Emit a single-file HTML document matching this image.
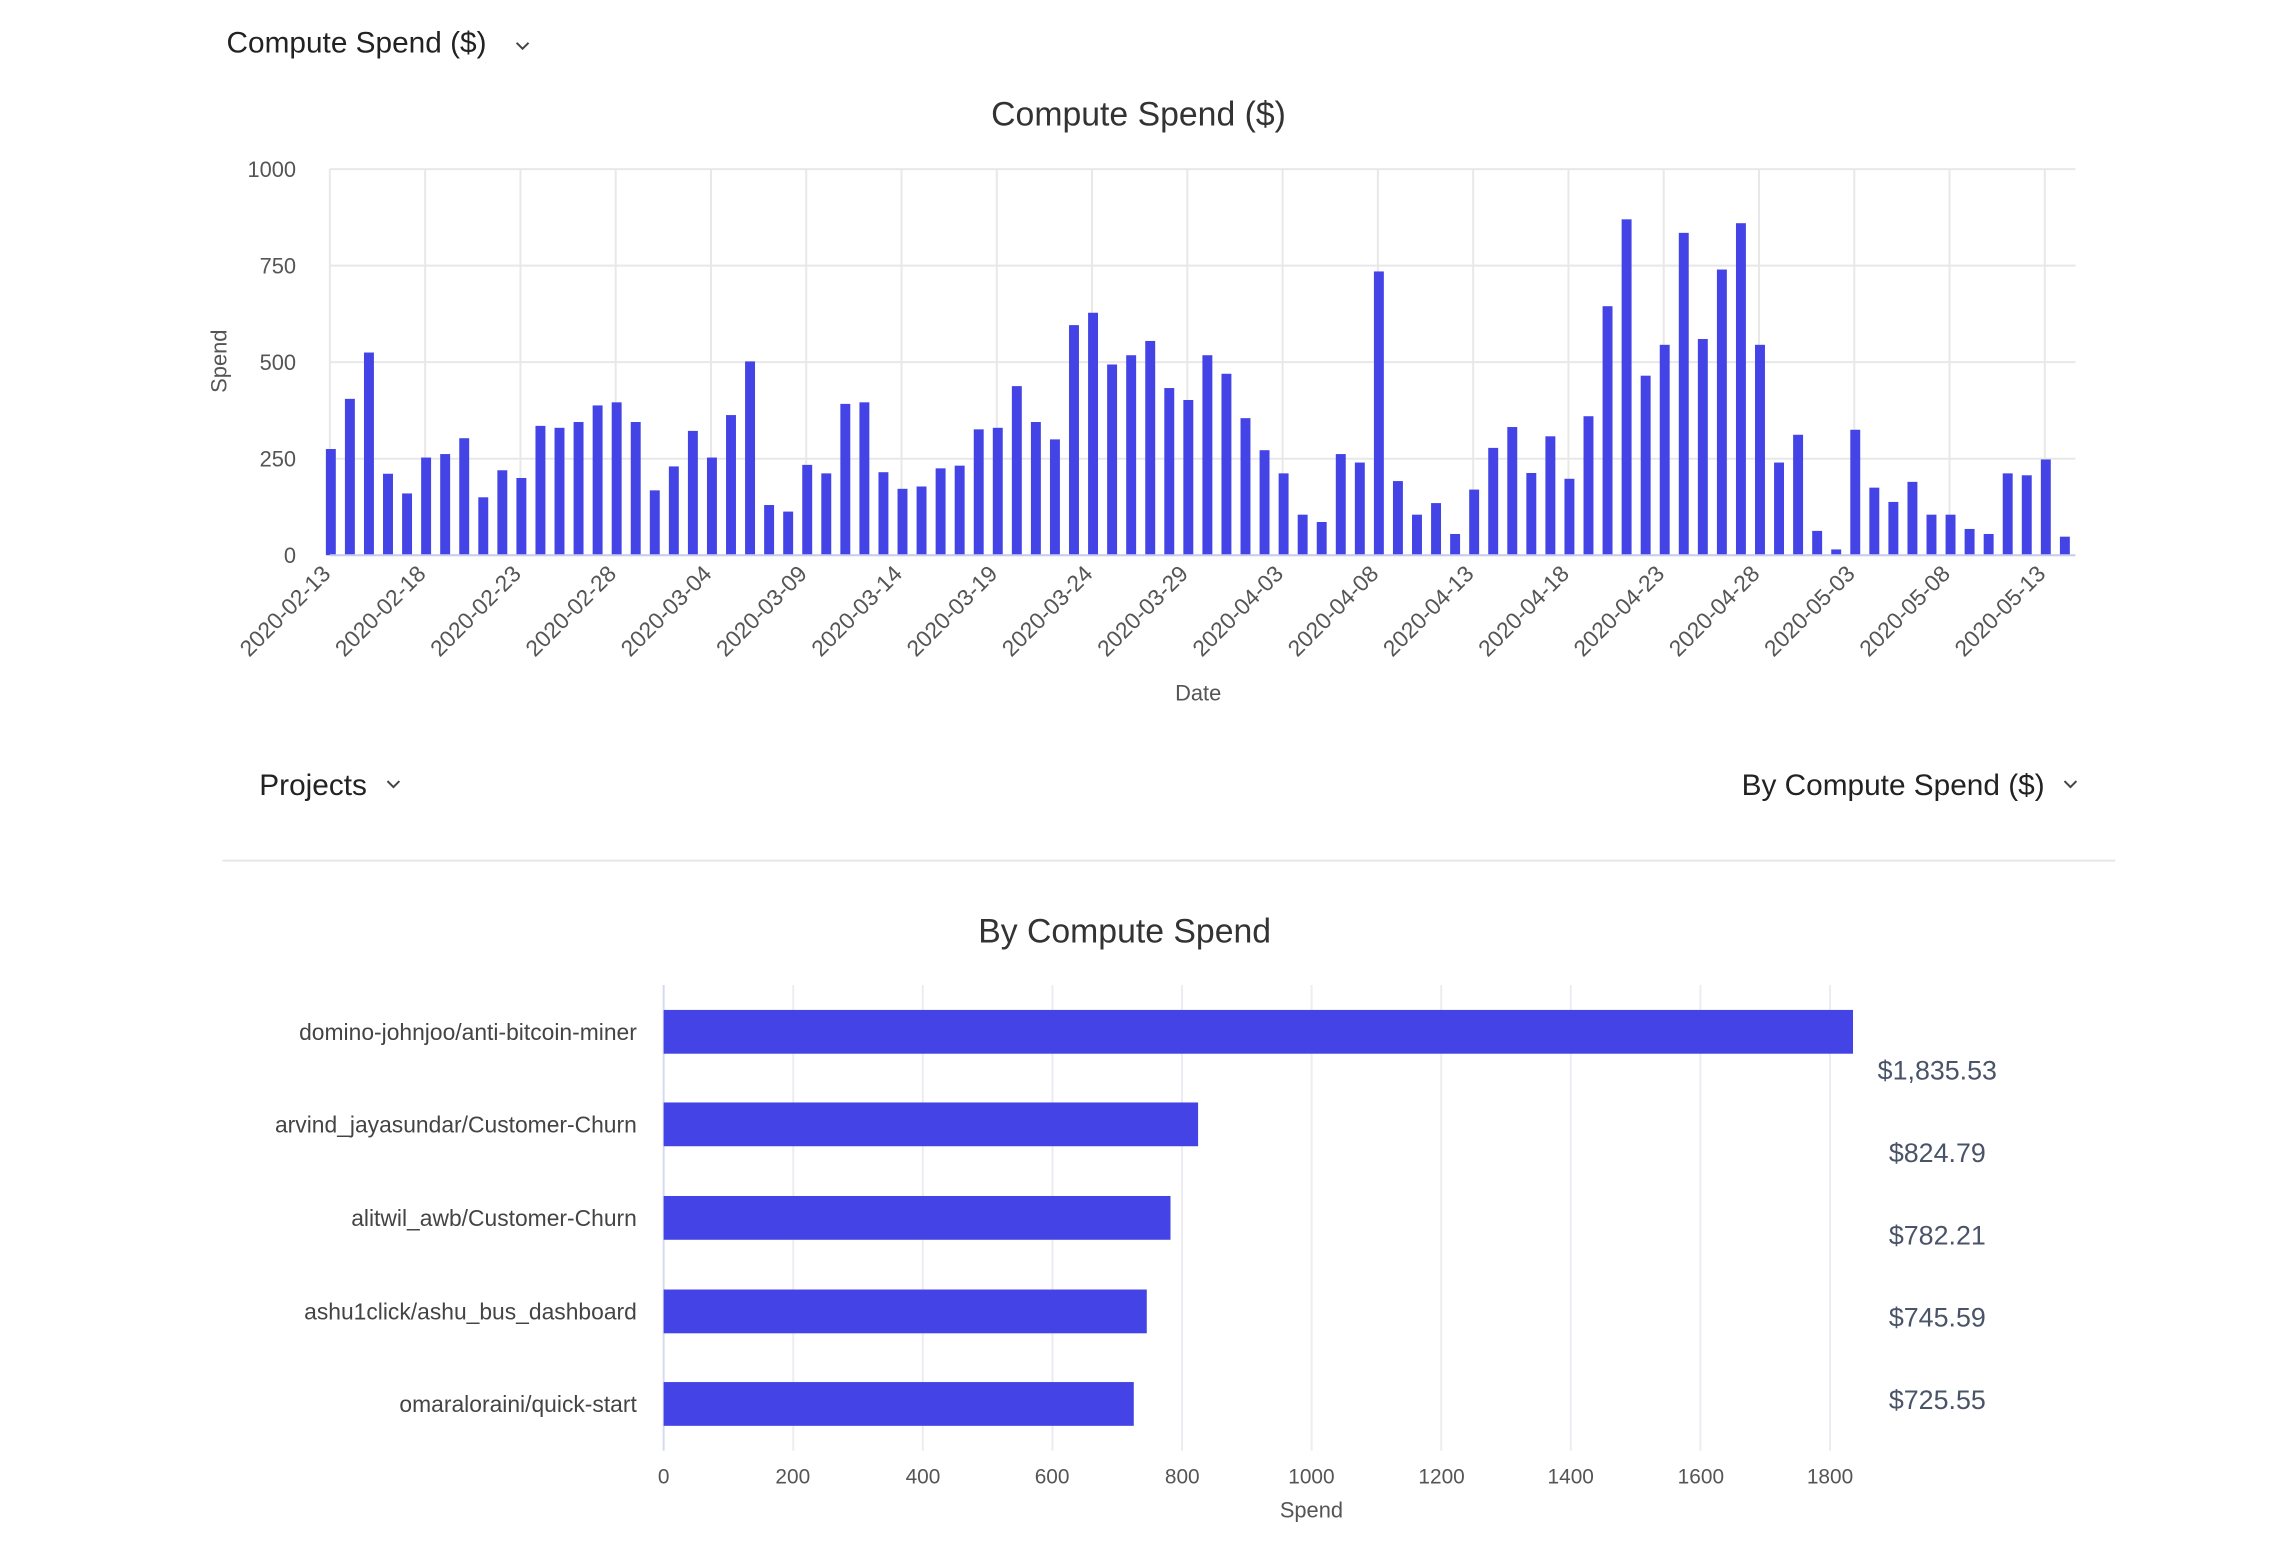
<!DOCTYPE html>
<html><head><meta charset="utf-8"><style>
html,body{margin:0;padding:0;background:#fff;width:2284px;height:1554px;overflow:hidden}
svg{display:block;font-family:"Liberation Sans",sans-serif}
</style></head><body>
<svg id="s" width="2284" height="1554" viewBox="0 0 2284 1554">
<g transform="scale(0.9935,0.995)">
<g fill="#222" font-size="30">
<text x="228" y="53">Compute Spend ($)</text>
<text x="261" y="799">Projects</text>
<text x="2058" y="799" text-anchor="end">By Compute Spend ($)</text>
</g>
<g fill="none" stroke="#444" stroke-width="2">
<polyline points="520,43 526,49 532,43"/>
<polyline points="390,785 396,791 402,785"/>
<polyline points="2078,785 2084,791 2090,785"/>
</g>
<text x="1146" y="126" text-anchor="middle" font-size="34" fill="#333">Compute Spend ($)</text>
<text x="1132" y="947" text-anchor="middle" font-size="34" fill="#333">By Compute Spend</text>
<line x1="224" y1="865" x2="2129" y2="865" stroke="#e6e6e6" stroke-width="2"/>
<g id="topg"></g>
<g id="botg"></g>
<g fill="#555" font-size="22" text-anchor="end">
<text x="298" y="178">1000</text><text x="298" y="275">750</text><text x="298" y="372">500</text><text x="298" y="469">250</text><text x="298" y="566">0</text>
</g>
<text transform="translate(228,363) rotate(-90)" text-anchor="middle" font-size="22" fill="#555">Spend</text>
<text x="1206" y="704" text-anchor="middle" font-size="22" fill="#555">Date</text>
<g id="dl" fill="#555" font-size="23" text-anchor="end"></g>
<g fill="#444" font-size="23" text-anchor="end">
<text x="641" y="1045">domino-johnjoo/anti-bitcoin-miner</text>
<text x="641" y="1138">arvind_jayasundar/Customer-Churn</text>
<text x="641" y="1232">alitwil_awb/Customer-Churn</text>
<text x="641" y="1326">ashu1click/ashu_bus_dashboard</text>
<text x="641" y="1419">omaraloraini/quick-start</text>
</g>
<g fill="#555" font-size="21" text-anchor="middle">
<text x="668" y="1491">0</text><text x="798" y="1491">200</text><text x="929" y="1491">400</text><text x="1059" y="1491">600</text><text x="1190" y="1491">800</text><text x="1320" y="1491">1000</text><text x="1451" y="1491">1200</text><text x="1581" y="1491">1400</text><text x="1712" y="1491">1600</text><text x="1842" y="1491">1800</text>
</g>
<text x="1320" y="1525" text-anchor="middle" font-size="22" fill="#555">Spend</text>
<g fill="#4a5468" font-size="27" text-anchor="middle">
<text x="1950" y="1085">$1,835.53</text>
<text x="1950" y="1168">$824.79</text>
<text x="1950" y="1251">$782.21</text>
<text x="1950" y="1333">$745.59</text>
<text x="1950" y="1416">$725.55</text>
</g>
</g>
</svg>
<script>
(function(){
var NS="http://www.w3.org/2000/svg";
function el(p,t,a){var e=document.createElementNS(NS,t);for(var k in a)e.setAttribute(k,a[k]);p.appendChild(e);return e;}
var tg=document.getElementById("topg"),bg=document.getElementById("botg");
var x0=332,dx=19.18,y0=558,yk=0.388;
for(var i=0;i<5;i++){var y=170+i*97;el(tg,"line",{x1:x0,x2:2089,y1:y,y2:y,stroke:"#e8e8e8","stroke-width":2});}
for(var k=0;k<19;k++){var x=x0+5*k*dx;el(tg,"line",{x1:x,x2:x,y1:170,y2:558,stroke:"#e8e8e8","stroke-width":2});}
var v=[275,405,525,211,160,253,262,303,150,220,200,335,330,345,388,396,345,168,230,322,253,363,502,130,113,234,212,392,396,215,172,178,225,232,326,330,438,345,300,596,628,494,518,555,433,402,518,470,355,272,212,105,86,262,240,735,192,105,135,55,170,278,332,213,308,198,360,645,870,465,545,835,560,740,860,545,240,312,63,15,325,175,138,190,105,105,68,55,212,207,248,48];
for(var i=0;i<v.length;i++){var x=x0+i*dx;var h=v[i]*yk;el(tg,"rect",{x:x-4,y:y0-h,width:10,height:h,fill:"#4343e6"});}
el(tg,"line",{x1:x0,x2:2089,y1:558,y2:558,stroke:"#c8cdf0","stroke-width":2});
var dates=["2020-02-13","2020-02-18","2020-02-23","2020-02-28","2020-03-04","2020-03-09","2020-03-14","2020-03-19","2020-03-24","2020-03-29","2020-04-03","2020-04-08","2020-04-13","2020-04-18","2020-04-23","2020-04-28","2020-05-03","2020-05-08","2020-05-13"];
var dl=document.getElementById("dl");
for(var k=0;k<19;k++){var x=x0+5*k*dx+2;var t=el(dl,"text",{transform:"translate("+x+",578) rotate(-45)"});t.textContent=dates[k];}
var bx0=668,bs=0.6522;
for(var k=0;k<10;k++){var x=bx0+k*200*bs;el(bg,"line",{x1:x,x2:x,y1:990,y2:1458,stroke:k==0?"#d5daf0":"#ececf2","stroke-width":2});}
var bv=[1835.53,824.79,782.21,745.59,725.55],by=[1037,1130,1224,1318,1411];
for(var i=0;i<5;i++){el(bg,"rect",{x:bx0,y:by[i]-22,width:bv[i]*bs,height:44,fill:"#4343e6"});}
})();
</script>
</body></html>
